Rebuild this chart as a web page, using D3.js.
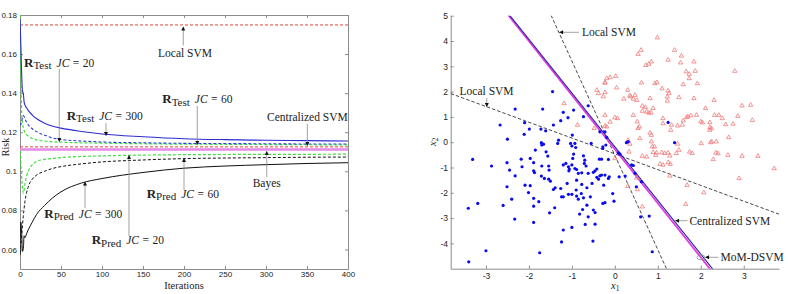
<!DOCTYPE html>
<html>
<head>
<meta charset="utf-8">
<script src="https://cdn.jsdelivr.net/npm/d3@7"></script>
<style>
  body { margin: 0; background: #fff; }
  .ann { font-family: "Liberation Serif", "Times New Roman", serif; font-size: 11.5px; fill: #222; }
</style>
</head>
<body>
<div id="chart"></div>
<script>
// ---------- left panel data: risk vs. iterations ----------
var iterations = [0, 1, 2, 3, 4, 5, 6, 8, 10, 15, 20, 30, 40, 50, 75, 100, 150, 200, 250, 300, 350, 400];
var riskTest300 = [0.178, 0.165, 0.150, 0.141, 0.1400, 0.1355, 0.1340, 0.1325, 0.1312, 0.1288, 0.1270, 0.1246, 0.1231, 0.1221, 0.1204, 0.1191, 0.1177, 0.1167, 0.1162, 0.1159, 0.1157, 0.1155];
var riskTest20 = [0.1235, 0.1240, 0.1255, 0.1275, 0.1285, 0.1280, 0.1268, 0.1252, 0.1238, 0.1218, 0.1203, 0.1185, 0.1170, 0.1163, 0.1155, 0.1150, 0.1146, 0.1143, 0.1142, 0.1141, 0.1140, 0.1140];
var riskTest60 = [0.180, 0.150, 0.130, 0.1245, 0.1225, 0.1210, 0.1200, 0.1188, 0.1180, 0.1168, 0.1161, 0.1155, 0.1151, 0.1149, 0.1146, 0.1144, 0.1141, 0.1139, 0.1138, 0.1137, 0.1136, 0.1135];
var riskPred20 = [0.1105, 0.104, 0.097, 0.0915, 0.0888, 0.0905, 0.0935, 0.0975, 0.1000, 0.1033, 0.1050, 0.1061, 0.1066, 0.1070, 0.1076, 0.1079, 0.1083, 0.1085, 0.1086, 0.1087, 0.1087, 0.1088];
var riskPred60 = [0.058, 0.061, 0.067, 0.072, 0.077, 0.081, 0.0845, 0.089, 0.0920, 0.0960, 0.0980, 0.1000, 0.1015, 0.1024, 0.1038, 0.1048, 0.1058, 0.1065, 0.1068, 0.1070, 0.1072, 0.1073];
var riskPred300 = [0.057, 0.074, 0.069, 0.059, 0.060, 0.067, 0.066, 0.068, 0.0700, 0.0740, 0.0778, 0.0825, 0.0865, 0.0895, 0.0940, 0.0963, 0.0994, 0.1016, 0.1027, 0.1034, 0.1040, 0.1044];
var riskLocalSVM = 0.1749;
var riskCentralized = 0.1125;
var riskBayes = 0.1112;
var iterTicks = [0, 50, 100, 150, 200, 250, 300, 350, 400];
var riskTicks = [0.06, 0.08, 0.1, 0.12, 0.14, 0.16, 0.18];

// ---------- right panel data: two classes and separating lines ----------
var classBlue = [
  [-2.67,0.68],[-2.50,0.12],[-2.32,1.31],[-2.10,0.77],[-2.11,0.31],[-1.99,0.52],[-1.68,1.31],[-1.72,0.52],
  [-1.61,0.45],[-1.45,2.00],[-1.43,0.68],[-1.31,0.08],[-1.26,0.85],[-1.20,1.18],[-1.09,0.97],[-0.96,1.27],
  [-0.99,0.28],[-0.73,1.01],[-0.62,1.44],[-0.35,0.41],[-0.55,-0.05],[-0.23,0.41],[-0.19,0.19],[-0.28,-0.18],
  [-3.31,-0.68],[-2.87,-0.94],[-2.51,-0.81],[-2.45,-1.10],[-2.18,-0.67],[-2.16,-0.97],[-2.32,-1.33],[-1.97,-0.64],
  [-1.89,-0.81],[-1.89,-1.13],[-1.87,-1.20],[-1.85,-0.31],[-1.71,-0.02],[-1.70,-0.11],[-1.66,-0.08],[-1.60,-0.38],
  [-1.56,-0.55],[-1.70,-0.94],[-1.54,-0.94],[-1.53,-1.10],[-1.71,-1.34],[-1.64,-1.43],[-1.54,-1.46],[-1.50,-1.54],
  [-2.09,-1.70],[-1.97,-1.72],[-2.01,-1.99],[-2.51,-1.76],[-2.40,-2.25],[-2.60,-2.50],[-2.33,-3.04],[-3.41,-2.61],
  [-3.19,-2.42],[-1.89,-2.22],[-1.77,-2.35],[-1.89,-2.53],[-1.89,-3.17],[-1.52,-2.79],[-1.43,-1.87],[-1.39,-1.80],
  [-1.40,-2.59],[-1.33,-0.05],[-1.26,-1.83],[-1.24,-2.16],[-1.20,-2.16],[-1.20,-0.90],[-1.14,-0.84],[-1.08,-0.97],
  [-1.06,-1.06],[-1.07,-1.13],[-1.03,-0.05],[-1.00,-0.15],[-0.93,-0.05],[-0.91,-0.21],[-0.96,-0.47],[-0.98,-0.64],
  [-1.00,-0.90],[-0.93,-1.04],[-0.89,-1.08],[-0.85,-1.23],[-0.77,-1.21],[-0.73,-0.54],[-0.70,-0.71],[-0.71,-0.84],
  [-0.67,-0.94],[-0.62,-1.23],[-0.50,-1.19],[-0.46,-1.13],[-0.42,-1.06],[-0.36,-0.67],[-0.31,-0.67],[-0.28,-0.25],
  [-0.21,-0.11],[-0.89,-1.50],[-0.77,-1.67],[-0.65,-1.80],[-0.78,-2.03],[-0.89,-2.13],[-0.85,-2.25],[-1.08,-2.06],
  [-1.00,-2.06],[-1.11,-1.63],[-0.90,-1.89],[-0.73,-2.20],[-0.57,-2.16],[-0.65,-2.49],[-0.75,-2.66],[-0.82,-2.84],
  [-0.69,-3.25],[-0.50,-2.68],[-0.46,-2.78],[-0.62,-2.95],[-0.46,-3.24],[-0.51,-3.91],[-1.00,-3.37],[-1.20,-3.47],
  [-1.24,-3.94],[-1.75,-4.37],[-3.00,-4.29],[-3.40,-4.73],[-0.53,-1.63],[-0.42,-1.39],[-0.38,-1.46],[-0.31,-1.30],
  [-0.26,-1.70],[-0.23,-1.30],[-0.28,-2.42],[-0.23,-2.39],[-0.15,-1.43],[-0.15,-0.68],[0.08,-0.42],[0.12,-0.47],
  [0.27,-0.02],[0.31,0.02],[0.39,-0.90],[0.43,-0.92],[0.47,-1.23],[0.62,-1.56],[0.50,-1.76],[-0.05,-2.03],
  [-0.02,-2.33],[-0.35,-1.33],[-0.13,-1.37],[0.10,-1.37],[0.24,-1.34],[0.60,-2.95],[0.80,-2.92],[0.87,-4.33],
  [1.39,-0.02],[1.24,0.78]
];
var classRed = [
  [0.99,4.13],[0.61,3.64],[0.54,3.48],[1.39,3.64],[1.55,3.41],[1.24,3.25],[0.85,3.18],[0.72,3.04],[0.79,3.09],
  [1.53,3.14],[1.84,3.18],[1.66,2.79],[1.73,2.69],[1.87,2.81],[1.73,2.52],[2.79,2.81],[-0.11,2.56],[0.02,2.61],
  [-0.23,2.35],[0.62,2.35],[0.93,2.32],[0.98,2.36],[1.59,2.28],[1.92,2.32],[-0.23,1.97],[0.04,2.15],[0.30,2.06],
  [1.10,2.12],[1.24,2.03],[1.26,1.93],[0.35,1.84],[0.37,1.80],[0.47,1.86],[0.43,1.71],[0.21,1.71],[0.51,1.66],
  [0.82,1.73],[1.22,1.80],[1.22,1.63],[1.49,1.77],[1.84,1.73],[2.31,1.66],[0.64,1.43],[0.71,1.38],[0.89,1.34],
  [0.64,1.23],[0.74,1.20],[0.79,1.16],[0.84,1.16],[2.11,1.34],[2.96,1.44],[3.16,1.47],[-0.23,1.07],[0.00,0.97],
  [0.06,0.94],[0.43,1.07],[1.12,0.94],[1.12,0.74],[1.32,0.68],[1.67,0.98],[1.70,1.01],[1.77,1.05],[1.90,1.07],
  [1.59,0.85],[2.00,0.81],[2.04,0.77],[2.21,0.78],[2.21,0.59],[2.32,1.07],[2.42,1.07],[2.50,0.94],[2.58,0.70],
  [2.75,0.72],[2.86,1.03],[3.20,0.87],[0.52,0.81],[0.57,0.61],[0.54,0.55],[1.46,0.65],[1.57,0.68],[0.82,0.37],
  [0.85,0.28],[0.58,0.15],[0.31,0.08],[0.35,-0.07],[1.30,0.48],[2.21,0.48],[2.25,0.54],[2.65,0.19],[2.36,0.02],
  [2.23,-0.01],[0.87,-0.18],[1.46,-0.07],[-0.19,0.61],[0.64,-0.55],[0.74,-0.58],[0.97,-0.42],[1.09,-0.41],
  [1.16,-0.44],[1.24,-0.42],[1.28,-0.54],[0.89,-0.40],[0.95,-0.51],[1.05,-0.87],[1.12,-0.90],[1.24,-0.80],
  [1.29,-0.87],[1.28,-1.33],[1.43,-0.44],[1.49,-0.31],[1.74,-0.38],[1.80,-0.44],[2.01,-0.05],[2.25,0.02],
  [2.35,-0.42],[2.29,-0.68],[2.40,-0.45],[2.63,-0.51],[2.96,-0.55],[3.33,-0.55],[3.71,-1.04],[2.89,-1.43],
  [1.68,-1.70],[2.07,-1.99],[1.65,-2.45],[0.92,-0.18],[0.85,0.02],[0.51,-1.41],[0.52,-1.87],[0.64,-2.55],
  [0.00,-0.64],[0.30,-1.74],[0.33,-0.38],[-1.18,1.53],[-0.87,0.68],[-0.48,0.55],[-0.42,2.06],[-0.38,1.93],
  [-0.23,2.35],[-0.27,1.80],[-0.19,2.52],[-0.23,0.64],[-0.11,0.80]
];
// separating lines x2 = slope * x1 + intercept
var boundaryNames = ["Local SVM A", "Local SVM B", "MoM-DSVM", "Centralized SVM"];
var boundarySlopes = [-3.73, -0.624, -2.137, -2.123];
var boundaryIntercepts = [-0.52, -0.46, -0.278, -0.18];
var x1Ticks = [-3, -2, -1, 0, 1, 2, 3];
var x2Ticks = [-4, -3, -2, -1, 0, 1, 2, 3, 4, 5];

// ---------- svg ----------
var svg = d3.select("#chart").append("svg").attr("width", 788).attr("height", 294);
var defs = svg.append("defs");
defs.append("marker").attr("id", "tip")
  .attr("viewBox", "0 0 10 10").attr("refX", 9).attr("refY", 5)
  .attr("markerUnits", "userSpaceOnUse").attr("markerWidth", 5).attr("markerHeight", 4)
  .attr("orient", "auto")
  .append("path").attr("d", "M0,0L10,5L0,10Z").attr("fill", "#111");

var tickFont = '"Liberation Sans", Arial, sans-serif';

function styleAxis(g, size) {
  g.attr("font-family", tickFont).attr("font-size", size);
  g.selectAll("path, line").attr("stroke", "#8c8c8c");
  g.selectAll("text").attr("fill", "#222");
}

// ================= LEFT PANEL =================
var xL = d3.scaleLinear().domain([0, 400]).range([20, 348]);
var yL = d3.scaleLinear().domain([0.05, 0.18]).range([269, 15]);

defs.append("clipPath").attr("id", "clipL").append("rect")
  .attr("x", xL(0)).attr("y", yL(0.18)).attr("width", xL(400) - xL(0)).attr("height", yL(0.05) - yL(0.18));

var left = svg.append("g");

left.append("g").attr("transform", "translate(0," + yL(0.05) + ")")
  .call(d3.axisBottom(xL).tickValues(iterTicks).tickSizeInner(-3).tickSizeOuter(0).tickPadding(2.5))
  .call(styleAxis, 8);
left.append("g").attr("transform", "translate(0," + yL(0.18) + ")")
  .call(d3.axisTop(xL).tickValues(iterTicks).tickSizeInner(-3).tickSizeOuter(0).tickFormat(""))
  .call(styleAxis, 8);
left.append("g").attr("transform", "translate(" + xL(0) + ",0)")
  .call(d3.axisLeft(yL).tickValues(riskTicks).tickSizeInner(-3).tickSizeOuter(0).tickPadding(3)
    .tickFormat(d => String(+d.toFixed(2))))
  .call(styleAxis, 8);
left.append("g").attr("transform", "translate(" + xL(400) + ",0)")
  .call(d3.axisRight(yL).tickValues(riskTicks).tickSizeInner(-3).tickSizeOuter(0).tickFormat(""))
  .call(styleAxis, 8);

var plotL = left.append("g").attr("clip-path", "url(#clipL)");

function hline(value, color, width, dash) {
  plotL.append("path")
    .datum([0, 400])
    .attr("d", d3.line().x(d => xL(d)).y(() => yL(value)))
    .attr("fill", "none").attr("stroke", color).attr("stroke-width", width)
    .attr("stroke-dasharray", dash);
}
var riskLine = d3.line()
  .x((d, i) => xL(iterations[i]))
  .y(d => yL(d))
  .curve(d3.curveMonotoneX);
function curve(values, color, width, dash) {
  plotL.append("path").datum(values).attr("d", riskLine)
    .attr("fill", "none").attr("stroke", color).attr("stroke-width", width)
    .attr("stroke-dasharray", dash);
}

hline(riskBayes, "#e489e8", 2.6, null);
hline(riskCentralized, "#e0443c", 1, "3,2");
hline(riskLocalSVM, "#e0443c", 1, "3,2");
curve(riskPred300, "#111", 1, null);
curve(riskPred60, "#111", 1, "3,2");
curve(riskPred20, "#3ee03e", 1.2, "3,2");
curve(riskTest60, "#3ee03e", 1.2, "3,2");
curve(riskTest20, "#2b3ed2", 1.1, "3,2");
curve(riskTest300, "#2b2bd0", 1.1, null);

// axis titles
svg.append("text").attr("class", "ann").attr("x", 184).attr("y", 289)
  .attr("text-anchor", "middle").style("font-size", "10.5px").text("Iterations");
svg.append("text").attr("class", "ann").attr("transform", "translate(8.5,147) rotate(-90)")
  .attr("text-anchor", "middle").style("font-size", "10px").text("Risk");

// annotations
function leader(g, x1, y1, x2, y2) {
  g.append("line").attr("x1", x1).attr("y1", y1).attr("x2", x2).attr("y2", y2)
    .attr("stroke", "#8a8a8a").attr("stroke-width", 0.8).attr("marker-end", "url(#tip)");
}
function riskLabel(g, x, y, sub, jc) {
  var t = g.append("text").attr("class", "ann").attr("x", x).attr("y", y);
  t.append("tspan").attr("font-weight", "bold").style("font-size", "13px").text("R");
  t.append("tspan").style("font-size", "11px").attr("dy", 2.5).text(sub);
  t.append("tspan").attr("dy", -2.5).attr("dx", 5).attr("font-style", "italic").text("JC");
  t.append("tspan").attr("dx", 3.5).text("=");
  t.append("tspan").attr("dx", 3.5).text(jc);
}

var annL = left.append("g");
var riskLabels = [
  { sub: "Test", jc: "20",  tx: 4.9,   ty: 0.15364, lx: 47.9,  ly0: 0.15236, ly1: 0.11526 },
  { sub: "Test", jc: "300", tx: 56.9,  ty: 0.12626, lx: 104.9, ly0: 0.12472, ly1: 0.11833 },
  { sub: "Test", jc: "60",  tx: 173.5, ty: 0.13496, lx: 216.2, ly0: 0.13343, ly1: 0.11372 },
  { sub: "Pred", jc: "60",  tx: 154.5, ty: 0.08634, lx: 200,   ly0: 0.09043, ly1: 0.10656 },
  { sub: "Pred", jc: "300", tx: 29.6,  ty: 0.07611, lx: 79.3,  ly0: 0.08122, ly1: 0.09453 },
  { sub: "Pred", jc: "20",  tx: 87.4,  ty: 0.06279, lx: 132.9, ly0: 0.06689, ly1: 0.10809 }
];
riskLabels.forEach(function(a) {
  leader(annL, xL(a.lx), yL(a.ly0), xL(a.lx), yL(a.ly1));
  riskLabel(annL, xL(a.tx), yL(a.ty), a.sub, a.jc);
});
var plainLabels = [
  { text: "Local SVM", tx: 168.3, ty: 0.15866, anchor: "start", lx: 199.1, ly0: 0.16439, ly1: 0.17386 },
  { text: "Centralized SVM", tx: 301.2, ty: 0.12575, anchor: "start", lx: 350.4, ly0: 0.12421, ly1: 0.11321 },
  { text: "Bayes", tx: 300.9, ty: 0.09222, anchor: "middle", lx: 300.9, ly0: 0.09709, ly1: 0.11014 }
];
plainLabels.forEach(function(a) {
  leader(annL, xL(a.lx), yL(a.ly0), xL(a.lx), yL(a.ly1));
  annL.append("text").attr("class", "ann").attr("x", xL(a.tx)).attr("y", yL(a.ty))
    .attr("text-anchor", a.anchor).text(a.text);
});

// ================= RIGHT PANEL =================
var xR = d3.scaleLinear().domain([-3.82, 3.82]).range([450.7, 779]);
var yR = d3.scaleLinear().domain([-5, 5]).range([268.7, 15.7]);

defs.append("clipPath").attr("id", "clipR").append("rect")
  .attr("x", xR(-3.82)).attr("y", yR(5)).attr("width", xR(3.82) - xR(-3.82)).attr("height", yR(-5) - yR(5));

var right = svg.append("g");
right.append("g").attr("transform", "translate(0," + yR(-5) + ")")
  .call(d3.axisBottom(xR).tickValues(x1Ticks).tickSizeInner(-3).tickSizeOuter(0).tickPadding(4)
    .tickFormat(d => String(d)))
  .call(styleAxis, 8.5);
right.append("g").attr("transform", "translate(" + xR(-3.82) + ",0)")
  .call(d3.axisLeft(yR).tickValues(x2Ticks).tickSizeInner(-3).tickSizeOuter(0).tickPadding(2.7)
    .tickFormat(d => String(d)))
  .call(styleAxis, 8.5);

var plotR = right.append("g").attr("clip-path", "url(#clipR)");

var lineR = d3.line().x(d => xR(d[0])).y(d => yR(d[1]));
var boundaryStyles = [
  { color: "#333", width: 0.9, dash: "3.5,2" },
  { color: "#333", width: 0.9, dash: "3.5,2" },
  { color: "#e03ee0", width: 1.8, dash: null },
  { color: "#2a1fa8", width: 1.1, dash: null }
];
boundaryNames.forEach(function(name, i) {
  var m = boundarySlopes[i], b = boundaryIntercepts[i];
  var ends = xR.domain().map(x => [x, m * x + b]);
  plotR.append("path").datum(ends).attr("d", lineR)
    .attr("fill", "none").attr("stroke", boundaryStyles[i].color)
    .attr("stroke-width", boundaryStyles[i].width)
    .attr("stroke-dasharray", boundaryStyles[i].dash);
});

right.append("g").selectAll("path.tri").data(classRed).enter().append("path")
  .attr("class", "tri")
  .attr("d", d3.symbol(d3.symbolTriangle).size(8))
  .attr("transform", d => "translate(" + xR(d[0]) + "," + yR(d[1]) + ")")
  .attr("fill", "none").attr("stroke", "#f07a7a").attr("stroke-width", 0.8);

right.append("g").selectAll("circle").data(classBlue).enter().append("circle")
  .attr("cx", d => xR(d[0])).attr("cy", d => yR(d[1])).attr("r", 1.6)
  .attr("fill", "#0a0af0");

// axis titles
var xt = svg.append("text").attr("class", "ann").attr("x", 611).attr("y", 289).style("font-size", "10.5px");
xt.append("tspan").attr("font-style", "italic").text("x");
xt.append("tspan").style("font-size", "7.5px").attr("dy", 2).text("1");
var yt = svg.append("text").attr("class", "ann").attr("transform", "translate(436,146) rotate(-90)")
  .style("font-size", "10.5px");
yt.append("tspan").attr("font-style", "italic").text("x");
yt.append("tspan").style("font-size", "7.5px").attr("dy", 2).text("2");

// annotations
var annR = right.append("g");
// Local SVM (shallow line) - vertical leader
leader(annR, xR(-2.98), yR(1.747), xR(-2.98), yR(1.411));
annR.append("text").attr("class", "ann").attr("x", xR(-2.985)).attr("y", yR(1.866))
  .attr("text-anchor", "middle").text("Local SVM");
// horizontal leaders
var sideLabels = [
  { text: "Local SVM", tx: -0.764, ty: 4.198, lx0: -0.834, lx1: -1.288, ly: 4.344 },
  { text: "Centralized SVM", tx: 1.736, ty: -3.253, lx0: 1.690, lx1: 1.411, ly: -3.103 },
  { text: "MoM-DSVM", tx: 2.458, ty: -4.696, lx0: 2.411, lx1: 2.109, ly: -4.549 }
];
sideLabels.forEach(function(a) {
  leader(annR, xR(a.lx0), yR(a.ly), xR(a.lx1), yR(a.ly));
  annR.append("text").attr("class", "ann").attr("x", xR(a.tx)).attr("y", yR(a.ty)).text(a.text);
});
annR.append("ellipse").attr("cx", xR(2.004)).attr("cy", yR(-4.55)).attr("rx", 4).attr("ry", 2.5)
  .attr("fill", "none").attr("stroke", "#888").attr("stroke-width", 0.7);
</script>
</body>
</html>
